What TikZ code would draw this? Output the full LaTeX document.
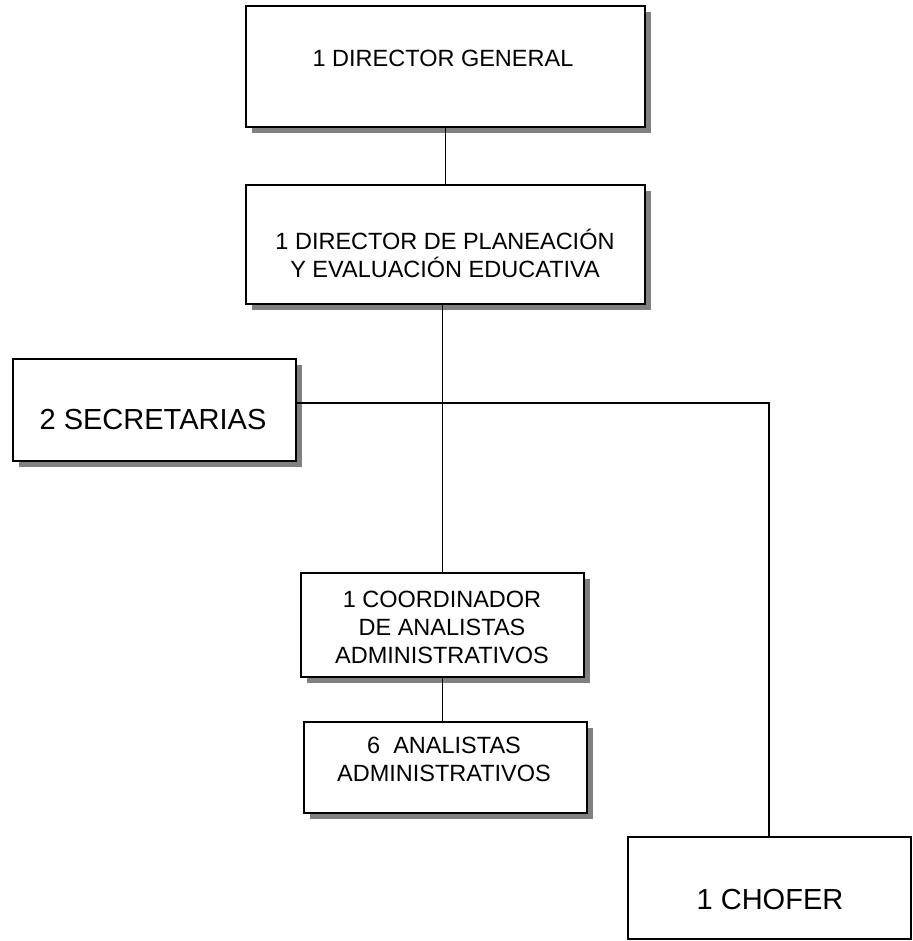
\documentclass[tikz,border=0pt]{standalone}
\usepackage{fontspec}
\setmainfont{Liberation Sans}
\usetikzlibrary{shadows}
\begin{document}
\begin{tikzpicture}[x=1pt,y=-1pt,
  box/.style={draw,line width=1.6pt,fill=white,inner sep=0pt,rectangle},
  shbox/.style={box,drop shadow={shadow xshift=6pt,shadow yshift=-6pt,fill=black!50,opacity=1}},
  lbl/.style={align=center,font=\fontsize{23.5}{28}\selectfont,inner sep=0pt},
  big/.style={align=center,font=\fontsize{29}{34}\selectfont,inner sep=0pt},
  link/.style={line width=1.3pt}]
\useasboundingbox (0,0) rectangle (912,941);
% boxes
\node[shbox,minimum width=399pt,minimum height=121pt] (b1) at (445.5,66.5) {};
\node[shbox,minimum width=399pt,minimum height=119pt] (b2) at (445.5,244.5) {};
\node[shbox,minimum width=283pt,minimum height=102pt] (sec) at (154.5,410) {};
\node[shbox,minimum width=283pt,minimum height=104pt] (coord) at (442.5,625) {};
\node[shbox,minimum width=283pt,minimum height=91pt] (anal) at (445.5,767.5) {};
\node[box,minimum width=283pt,minimum height=102pt] (chofer) at (769.5,888) {};
% connectors
\coordinate (j) at (769,403);
\draw[link] (b1.south) -- (b2.north);
\draw[link] (b2.south -| coord.north) -- (coord.north);
\draw[link] (coord.south) -- (coord.south |- anal.north);
\draw[link] (sec.east |- j) -- (j) -- (j |- chofer.north);
% texts
\node[lbl] (t1) at (443,58) {1 DIRECTOR GENERAL};
\node[lbl] (t2) at (445,253) {1 DIRECTOR DE PLANEACIÓN\\Y EVALUACIÓN EDUCATIVA};
\node[big] (t3) at (153,420) {2 SECRETARIAS};
\node[lbl] (t4) at (442,627) {1 COORDINADOR\\ DE ANALISTAS\\ADMINISTRATIVOS};
\node[lbl] (t5) at (444,759) {6\ \ ANALISTAS\\ADMINISTRATIVOS};
\node[big] (t6) at (770,899.5) {1 CHOFER};
\end{tikzpicture}
\end{document}
